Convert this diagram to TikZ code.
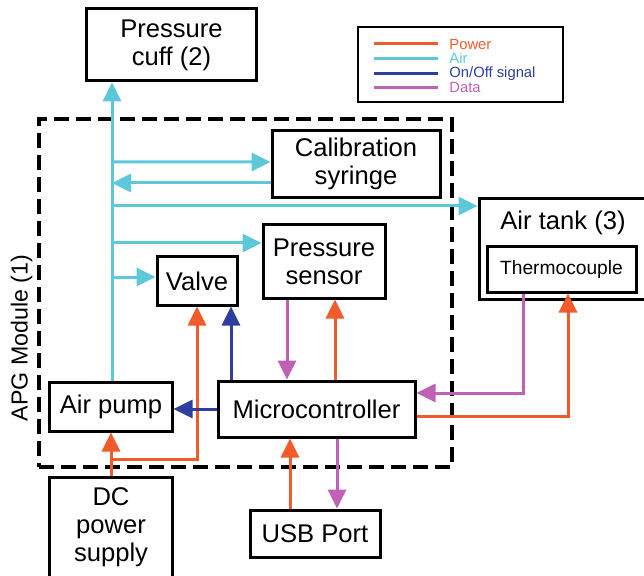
\documentclass[tikz,border=0pt]{standalone}
\usepackage{fontspec}
\setmainfont{Liberation Sans}
\usetikzlibrary{arrows.meta, calc}
\definecolor{powercol}{RGB}{241,90,41}
\definecolor{aircol}{RGB}{92,200,218}
\definecolor{signalcol}{RGB}{46,63,158}
\definecolor{datacol}{RGB}{191,98,181}

\begin{document}
\begin{tikzpicture}[x=0.5bp, y=-0.5bp, font=\fontsize{12.8bp}{14bp}\selectfont,
    box/.style={draw, line width=1.5bp, align=center, inner sep=0pt},
    flow/.style={line width=1.5bp, -{Triangle[length=9.5bp, width=9bp]}},
    power/.style={flow, draw=powercol},
    air/.style={flow, draw=aircol},
    signal/.style={flow, draw=signalcol},
    data/.style={flow, draw=datacol}]
    \useasboundingbox (0,0) rectangle (644,576);

    % APG module outline
    \node[draw, line width=2bp, dash pattern=on 7.5bp off 3.5bp, minimum width=206.5bp,
          minimum height=174bp, inner sep=0pt] (module) at (245.5,293) {};
    \node[rotate=90, font=\fontsize{11.6bp}{13bp}\selectfont] (modlabel) at (21.5,338) {APG Module (1)};

    % Blocks
    \node[box, minimum width=84.5bp, minimum height=36bp] (cuff) at (171.5,45) {Pressure\\cuff (2)};
    \node[box, minimum width=84bp, minimum height=33bp] (calib) at (356,164) {Calibration\\syringe};
    \node[box, minimum width=85.5bp, minimum height=50bp] (tank) at (564.5,249) {};
    \node (tanklabel) at (563,223) {Air tank (3)};
    \node[box, minimum width=74.5bp, minimum height=22.5bp,
          font=\fontsize{9.6bp}{11bp}\selectfont] (thermo) at (561.5,269.5) {Thermocouple};
    \node[box, minimum width=61bp, minimum height=36.5bp] (psensor) at (324,261.5) {Pressure\\sensor};
    \node[box, minimum width=40bp, minimum height=24bp] (valve) at (197,281) {Valve};
    \node[box, minimum width=61bp, minimum height=24.5bp] (pump) at (111,406.5) {Air pump};
    \node[box, minimum width=98.5bp, minimum height=28bp] (micro) at (316.5,409) {Microcontroller};
    \node[box, minimum width=61bp, minimum height=50.5bp] (dc) at (111,527.5) {DC\\power\\supply};
    \node[box, minimum width=65bp, minimum height=23.5bp] (usb) at (315,533.5) {USB Port};

    % Air lines off the trunk
    \coordinate (trunk) at (112,0);
    \draw[air] (trunk |- pump.north) -- (trunk |- cuff.south);
    \draw[air] (trunk |- calib.west) ++(0,-2) -- ([yshift=1bp]calib.west);
    \draw[air] ([yshift=-9.5bp]calib.west) -- ([yshift=-9.5bp]calib.west -| trunk);
    \draw[air] ([yshift=21.5bp]tank.west -| trunk) -- ([yshift=21.5bp]tank.west);
    \draw[air] ([yshift=9.25bp]psensor.west -| trunk) -- ([yshift=9.25bp]psensor.west);
    \draw[air] ([yshift=2bp]valve.west -| trunk) -- ([yshift=2bp]valve.west);

    % Power
    \coordinate (split) at (111,459);
    \draw[power] (dc.north) -- (pump.south);
    \draw[power] (dc.north) -- (split) -| (valve.south);
    \draw[power] ([xshift=9.25bp]micro.north) -- ([xshift=9.25bp]micro.north |- psensor.south);
    \draw[power] ([xshift=-12.5bp]usb.north) -- ([xshift=-12.5bp]usb.north |- micro.south);
    \draw[power] ([yshift=-3.5bp]micro.east) -| ([xshift=3.25bp]thermo.south);

    % On/Off signals
    \draw[signal] ([xshift=17bp]valve.south |- micro.north) -- ([xshift=17bp]valve.south);
    \draw[signal] (micro.west) -- (micro.west -| pump.east);

    % Data
    \draw[data] ([xshift=-18.5bp]psensor.south) -- ([xshift=-18.5bp]psensor.south |- micro.north);
    \draw[data] ([xshift=11bp]usb.north |- micro.south) -- ([xshift=11bp]usb.north);
    \draw[data] ([xshift=-19.25bp]thermo.south) |- ([yshift=8bp]micro.east);

    % Legend
    \node[draw, line width=1bp, minimum width=102.5bp, minimum height=37.5bp, inner sep=0pt]
        (legend) at (460.5,64.5) {};
    \foreach \col/\txt [count=\i] in {powercol/Power, aircol/Air, signalcol/{On/Off signal}, datacol/Data} {
        \draw[\col, line width=1.5bp] ($(legend.west)+(17,{14.6*\i-35.1})$) -- ++(64,0);
        \node[anchor=west, inner sep=0pt, text=\col, font=\fontsize{7.4bp}{8bp}\selectfont]
            (leg\i) at ($(legend.west)+(92,{14.6*\i-35.1})$) {\txt};
    }
\end{tikzpicture}
\end{document}
